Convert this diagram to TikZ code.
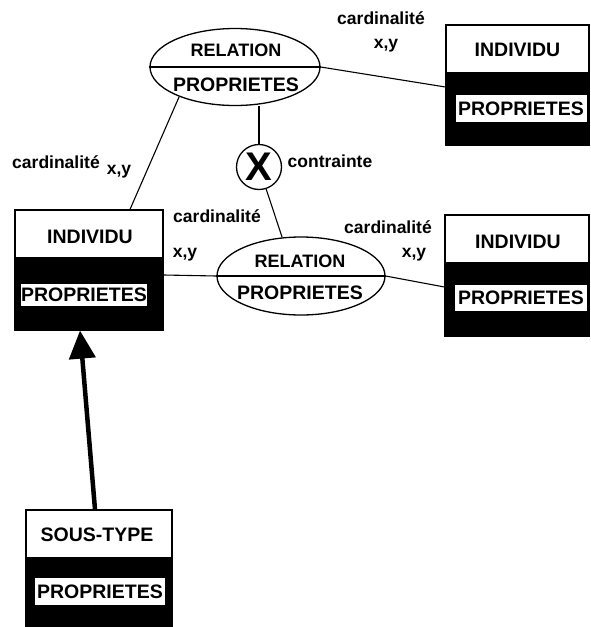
\documentclass[tikz,border=0pt]{standalone}
\usepackage{fontspec}
\setmainfont{Liberation Sans}
\usetikzlibrary{shapes.geometric,arrows.meta}
\tikzset{
  ent/.style={draw, line width=1.2pt, inner sep=0pt},
  titletxt/.style={inner sep=0pt, font=\fontsize{19.5}{19.5}\selectfont\bfseries},
  reltxt/.style={inner sep=0pt, font=\fontsize{18}{18}\selectfont\bfseries},
  proplabel/.style={fill=white, inner sep=0pt, font=\fontsize{19.5}{19.5}\selectfont\bfseries},
  rel/.style={ellipse, draw, line width=1.3pt, inner sep=0pt, minimum width=170pt, minimum height=77pt},
  card/.style={inner sep=0pt, font=\fontsize{17.5}{17.5}\selectfont\bfseries},
  conn/.style={line width=1.1pt},
}
\begin{document}
\begin{tikzpicture}[x=1pt,y=-1pt]
\useasboundingbox (0,0) rectangle (590,627);

% top right INDIVIDU
\node[ent, minimum width=143pt, minimum height=120pt] (ind1) at (517.5,85) {};
\fill ([yshift=-48pt]ind1.north west) rectangle (ind1.south east);
\node[titletxt] (ind1t) at ([yshift=-25pt]ind1.north) {INDIVIDU};
\node[proplabel, minimum width=131pt, minimum height=27pt] (ind1p) at (521,108.5) {PROPRIETES};

% left INDIVIDU
\node[ent, minimum width=148pt, minimum height=120pt] (ind2) at (89,270) {};
\fill ([yshift=-48pt]ind2.north west) rectangle (ind2.south east);
\node[titletxt] (ind2t) at (90,237) {INDIVIDU};
\node[proplabel, minimum width=126pt, minimum height=22pt] (ind2p) at (84,295) {PROPRIETES};

% lower right INDIVIDU
\node[ent, minimum width=144pt, minimum height=121pt] (ind3) at (517,275.5) {};
\fill ([yshift=-48pt]ind3.north west) rectangle (ind3.south east);
\node[titletxt] (ind3t) at (518,242) {INDIVIDU};
\node[proplabel, minimum width=132pt, minimum height=26pt] (ind3p) at (521,298) {PROPRIETES};

% SOUS-TYPE
\node[ent, minimum width=146pt, minimum height=116pt] (st) at (99,568) {};
\fill ([yshift=-48pt]st.north west) rectangle (st.south east);
\node[titletxt] (stt) at (97,535) {SOUS-TYPE};
\node[proplabel, minimum width=130pt, minimum height=27pt] (stp) at (100,591.5) {PROPRIETES};

% relations
\node[rel] (rel1) at (235,67) {};
\draw[line width=1.3pt] (rel1.west) -- (rel1.east);
\node[reltxt] (rel1t) at (236,50) {RELATION};
\node[titletxt] (rel1p) at (236,85) {PROPRIETES};

\node[rel, minimum width=168pt, minimum height=78pt] (rel2) at (301,276) {};
\draw[line width=1.3pt] (rel2.west) -- (rel2.east);
\node[reltxt] (rel2t) at (300,261) {RELATION};
\node[titletxt] (rel2p) at (300,293) {PROPRIETES};

% constraint
\node[circle, draw, line width=1.3pt, minimum size=45pt, inner sep=0pt,
      font=\fontsize{40}{40}\selectfont\bfseries] (cx) at (259,167) {X};

% connectors
\draw[conn] (rel1.east) -- ([yshift=-2pt]ind1.west);
\draw[conn] (rel1.208) -- ([xshift=41pt]ind2.north);
\draw[conn] (cx.north) -- (cx.north |- rel1.south);
\draw[conn] (cx.-72) -- (rel2.116);
\draw[conn] ([yshift=-5pt]ind2.east) -- (rel2.west);
\draw[conn] (rel2.east) -- ([yshift=-11.5pt]ind3.west);

% subtype arrow
\draw[line width=4.5pt, -{Triangle[length=28pt,width=26pt]}] ([xshift=-4pt]st.north) -- ([xshift=-9pt]ind2.south);

% labels
\node[card] (c1) at (381,18) {cardinalité};
\node[card] (xy1) at (386,46) {x,y};
\node[card] (c2) at (56,162) {cardinalité};
\node[card] (xy2) at (119,172) {x,y};
\node[card] (c3) at (217,216) {cardinalité};
\node[card] (xy3) at (185,255) {x,y};
\node[card] (c4) at (388,227) {cardinalité};
\node[card] (xy4) at (414,255) {x,y};
\node[card] (ctr) at (330,161) {contrainte};
\end{tikzpicture}
\end{document}
